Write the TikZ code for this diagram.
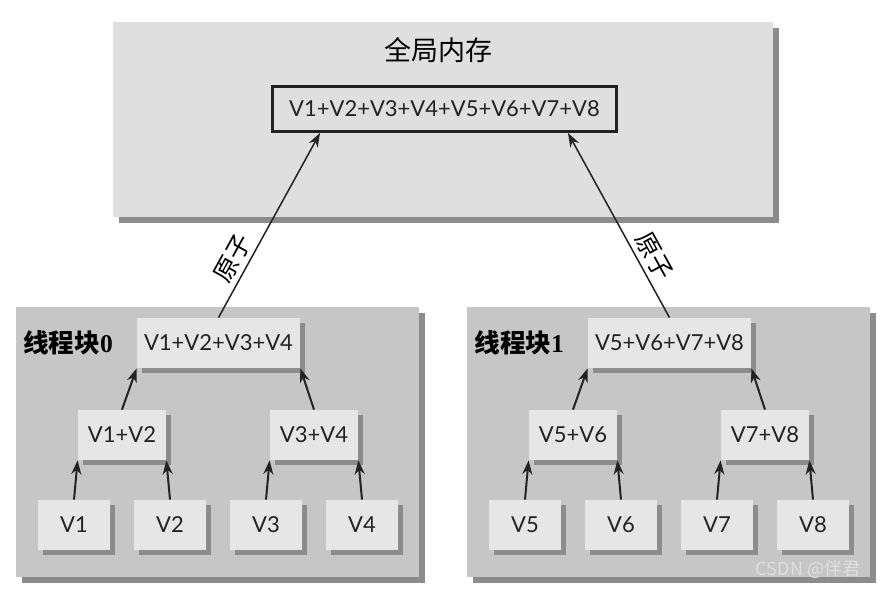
\documentclass[tikz,border=0pt]{standalone}
\usepackage{fontspec}
\setmainfont{Lato}
\newfontfamily\cjkfont{Noto Sans CJK SC}
\newfontfamily\numfont{Liberation Serif}
\usetikzlibrary{arrows.meta,shadows}
\definecolor{memfill}{HTML}{DFDFDF}
\definecolor{blockfill}{HTML}{C6C6C6}
\definecolor{cellfill}{HTML}{E6E6E6}
\definecolor{shadowgray}{HTML}{8C8C8C}
\definecolor{ink}{HTML}{222222}
\tikzset{
    memory/.style={fill=memfill,minimum width=330pt,minimum height=97.5pt,
      drop shadow={shadow xshift=3pt,shadow yshift=-3pt,fill=shadowgray,opacity=1}},
    block/.style={fill=blockfill,minimum width=201.5pt,minimum height=135pt,
      drop shadow={shadow xshift=3pt,shadow yshift=-3pt,fill=shadowgray,opacity=1}},
    cell/.style={fill=cellfill,text=ink,minimum height=25pt,inner sep=0pt,
      drop shadow={shadow xshift=2.5pt,shadow yshift=-2.5pt,fill=shadowgray,opacity=1}},
    sumbox/.style={draw=ink,line width=1.5pt,fill=memfill,text=ink,minimum width=172pt,minimum height=22.5pt},
    blocklabel/.style={font=\cjkfont\bfseries\fontsize{12.8}{15}\selectfont,inner sep=0pt,anchor=west},
    sumarrow/.style={draw=ink,line width=1pt,-{Stealth[length=7pt,width=5pt]}},
    atomarrow/.style={draw=ink,line width=0.75pt,-{Stealth[length=7pt,width=5pt]}},
    atomlabel/.style={font=\cjkfont\fontsize{12.5}{14}\selectfont,sloped,above,inner sep=2.5pt},
  }
\begin{document}
\begin{tikzpicture}[x=0.5pt,y=-0.5pt,font=\fontsize{11}{13}\selectfont]
    \useasboundingbox (0,0) rectangle (880,589);
    %MEMOIRE GLOBALE
    \node[memory] (mem) at (443,119.5) {};
    \node[font=\cjkfont\fontsize{13.5}{16}\selectfont] (memtitle) at (438,50) {全局内存};
    \node[sumbox] (sum) at (444.5,109) {V1+V2+V3+V4+V5+V6+V7+V8};
    %BLOCS DE THREADS
    \foreach \blk in {0,1}{
      \pgfmathsetmacro{\off}{451*\blk}
      \pgfmathtruncatemacro{\ia}{4*\blk+1}
      \pgfmathtruncatemacro{\ib}{4*\blk+2}
      \pgfmathtruncatemacro{\ic}{4*\blk+3}
      \pgfmathtruncatemacro{\id}{4*\blk+4}
      \pgfmathtruncatemacro{\pa}{2*\blk+1}
      \pgfmathtruncatemacro{\pb}{2*\blk+2}
      \node[block] (blk\blk) at (217.5+\off,442) {};
      \node[blocklabel] (lab\blk) at (23+\off,343) {线程块{\numfont\bfseries\blk}};
      \node[cell,minimum width=81.5pt] (top\blk) at (218.5+\off,343) {V\ia+V\ib+V\ic+V\id};
      \node[cell,minimum width=44pt] (pair\pa) at (122+\off,435) {V\ia+V\ib};
      \node[cell,minimum width=44pt] (pair\pb) at (314+\off,435) {V\ic+V\id};
      %FEUILLES
      \foreach \k in {1,...,4}{
        \pgfmathtruncatemacro{\n}{4*\blk+\k}
        \node[cell,minimum width=36pt] (v\n) at (74+96*\k-96+\off,525) {V\n};
      }
      \draw[sumarrow] (v\ia.north) -- (pair\pa.south west);
      \draw[sumarrow] (v\ib.north) -- (pair\pa.south east);
      \draw[sumarrow] (v\ic.north) -- (pair\pb.south west);
      \draw[sumarrow] (v\id.north) -- (pair\pb.south east);
      \draw[sumarrow] (pair\pa.north) -- (top\blk.south west);
      \draw[sumarrow] (pair\pb.north) -- (top\blk.south east);
    }
    %ATOMIQUE
    \draw[atomarrow] (top0.north) -- ([xshift=24.5pt]sum.south west) node[atomlabel,pos=0.28] {原子};
    \draw[atomarrow] (top1.north) -- ([xshift=-25pt]sum.south east) node[atomlabel,pos=0.29] {原子};
    \node[font=\cjkfont\fontsize{9}{11}\selectfont,text=white!88!black] (mark) at (808,570) {CSDN @伴君};
\end{tikzpicture}
\end{document}
